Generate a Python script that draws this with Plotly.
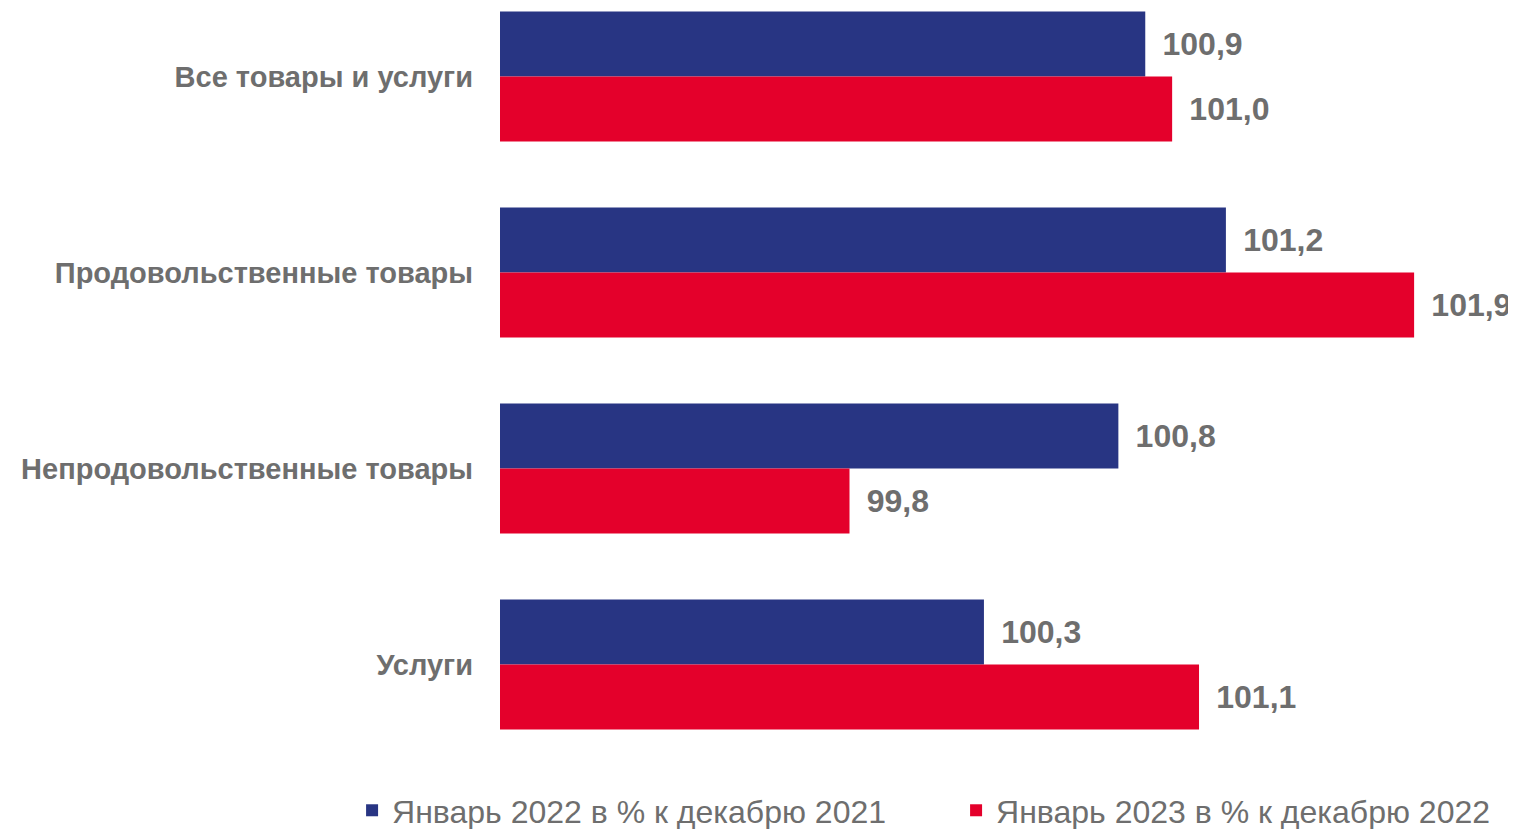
import plotly.graph_objects as go

categories = ["Все товары и услуги", "Продовольственные товары",
              "Непродовольственные товары", "Услуги"]
series_names = ["Январь 2022 в % к декабрю 2021", "Январь 2023 в % к декабрю 2022"]
values_2022 = [100.9, 101.2, 100.8, 100.3]
values_2023 = [101.0, 101.9, 99.8, 101.1]
colors = ["#283583", "#E4002B"]
text_color = "#6E6E6E"
FONT = "Liberation Sans, Arial, sans-serif"

fig = go.Figure()
for name, vals, col in zip(series_names, [values_2022, values_2023], colors):
    fig.add_trace(go.Bar(
        y=categories, x=vals, orientation="h", name=name,
        marker=dict(color=col, line=dict(width=0)),
        text=["\u00a0\u2006" + f"{v:.1f}".replace(".", ",") for v in vals],
        textposition="outside", cliponaxis=False, constraintext="none",
        textfont=dict(family=FONT, size=32, color=text_color, weight="bold"),
        hoverinfo="skip",
    ))

W, H = 1508, 821
L, R, T, B = 492, 74.5, 0, 89
fig.update_layout(
    width=W, height=H,
    barmode="group", bargap=0.337, bargroupgap=0,
    plot_bgcolor="white", paper_bgcolor="white",
    margin=dict(l=L, r=R, t=T, b=B, autoexpand=False),
    font=dict(family=FONT, color=text_color),
    xaxis=dict(range=[98.5, 102.0], showgrid=False, zeroline=False,
               showticklabels=False, showline=False, ticks=""),
    yaxis=dict(range=[3.385, -0.3495], showgrid=False, zeroline=False,
               showline=False, ticks="", ticklabelstandoff=26,
               tickfont=dict(family=FONT, size=29, color=text_color, weight="bold")),
    legend=dict(orientation="h", x=(344 - L) / (W - L - R), xanchor="left",
                y=-0.0587, yanchor="top",
                font=dict(family=FONT, size=32, color=text_color),
                entrywidth=559, entrywidthmode="pixels", itemwidth=30,
                traceorder="normal", bgcolor="rgba(0,0,0,0)"),
    showlegend=True,
)

fig.write_html("out.html")
